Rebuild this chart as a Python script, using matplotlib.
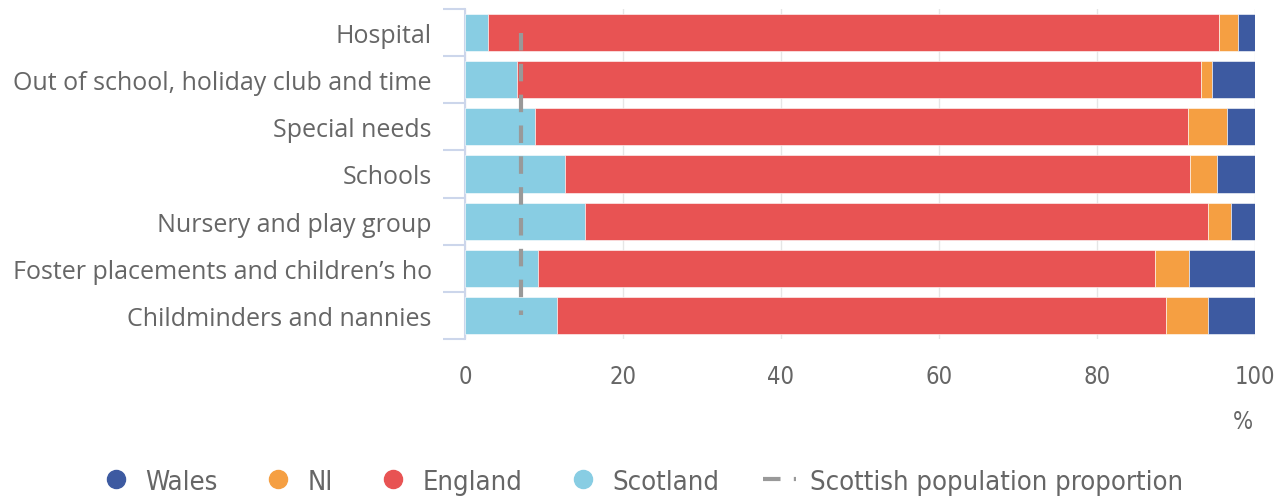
import matplotlib
matplotlib.use("Agg")
import matplotlib.pyplot as plt
from matplotlib.lines import Line2D
from matplotlib import font_manager

categories = ["Hospital", "Out of school, holiday club and time", "Special needs",
              "Schools", "Nursery and play group", "Foster placements and children\u2019s ho",
              "Childminders and nannies"]
scotland = [2.9, 6.6, 8.9, 12.6, 15.2, 9.2, 11.7]
england = [92.5, 86.6, 82.6, 79.2, 78.9, 78.1, 77.0]
ni = [2.4, 1.4, 4.9, 3.4, 2.8, 4.3, 5.4]
wales = [2.2, 5.4, 3.6, 4.8, 3.1, 8.4, 5.9]
scot_pop = 7.1
xticks = [0, 20, 40, 60, 80, 100]

col_wales = "#3d5aa1"
col_ni = "#f59f42"
col_eng = "#e85353"
col_scot = "#88cde3"
col_line = "#999999"
txt = "#666666"

# narrow font for axis numbers and legend, if one is around
names = {f.name for f in font_manager.fontManager.ttflist}
narrow_family = [n for n in ["Liberation Sans Narrow", "DejaVu Sans Condensed"] if n in names]
narrow_family += ["DejaVu Sans"]

W, H = 1285, 502
fig = plt.figure(figsize=(W / 100, H / 100), dpi=100)
ax = fig.add_axes([465 / W, 1 - 340 / H, 790 / W, 330 / H])

y = list(range(len(categories)))
left = [0] * len(y)
for vals, c in [(scotland, col_scot), (england, col_eng), (ni, col_ni), (wales, col_wales)]:
    ax.barh(y, vals, left=left, height=0.79, color=c, edgecolor="white", linewidth=0.4, zorder=3)
    left = [a + b for a, b in zip(left, vals)]

ax.plot([scot_pop] * len(y), y, color=col_line, linewidth=3, dashes=(4.2, 3.2), zorder=4)

ax.set_xlim(0, 100)
ax.set_ylim(len(y) - 0.5, -0.5)
ax.set_xticks(xticks)
ax.set_xticklabels([str(v) for v in xticks], family=narrow_family, stretch="condensed",
                   fontsize=17, color=txt)
ax.tick_params(axis="x", length=0, pad=18)
ax.set_yticks(y)
ax.set_yticklabels(categories, family="Open Sans", fontsize=18, color=txt)
ax.set_yticks([i - 0.5 for i in range(len(y) + 1)], minor=True)
ax.tick_params(axis="y", which="major", length=0, pad=24)
ax.tick_params(axis="y", which="minor", length=15.5, color="#ccd6eb", width=1.5)
ax.grid(axis="x", color="#e6e6e6", linewidth=1, zorder=0)
for s in ["top", "right", "bottom"]:
    ax.spines[s].set_visible(False)
ax.spines["left"].set_color("#ccd6eb")
ax.spines["left"].set_linewidth(1.5)

fig.text(1243 / W, 1 - 422 / H, "%", ha="center", va="center", fontsize=17, color=txt,
         family=narrow_family, stretch="condensed")

handles = [Line2D([], [], marker="o", linestyle="none", markersize=13, color=c)
           for c in [col_wales, col_ni, col_eng, col_scot]]
handles.append(Line2D([], [], color=col_line, linewidth=3, dashes=(4.2, 3.2)))
labels = ["Wales", "NI", "England", "Scotland", "Scottish population proportion"]
leg = fig.legend(handles, labels, loc="center", bbox_to_anchor=(641 / W, 1 - 483 / H), ncol=5,
                 frameon=False, handlelength=1.2, columnspacing=1.6, handletextpad=0.5,
                 prop={"family": narrow_family, "stretch": "condensed", "size": 19.6})
for t in leg.get_texts():
    t.set_color(txt)

fig.savefig("out.png", dpi=100)
